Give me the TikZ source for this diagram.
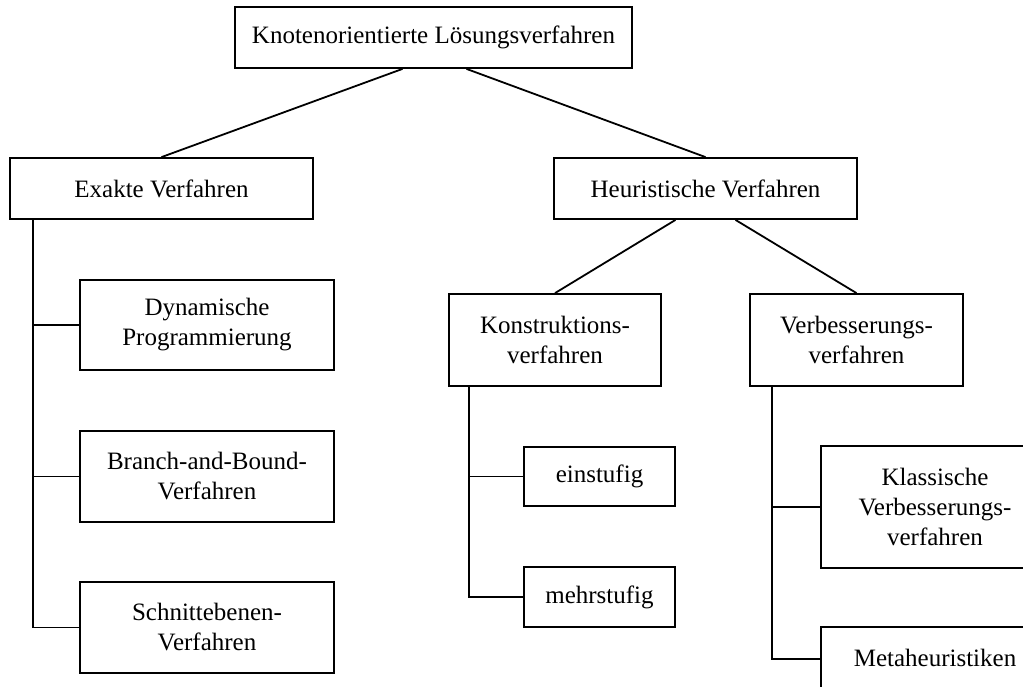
\documentclass[tikz,border=0pt]{standalone}
\usepackage{fontspec}
\setmainfont{Liberation Serif}
\begin{document}
\begin{tikzpicture}[x=1pt,y=-1pt,
  box/.style={draw, line width=1.8pt, inner sep=0pt, align=center,
    font=\fontsize{25}{30}\selectfont},
  conn/.style={line width=1.8pt}]
\useasboundingbox (0,0) rectangle (1023,686);
\clip (0,0) rectangle (1023,686);
\fill[white] (0,0) rectangle (1023,686);

% level 0 and 1
\node[box, minimum width=397pt, minimum height=61pt] (top) at (433.5,37.5) {Knotenorientierte Lösungsverfahren};
\node[box, minimum width=303pt, minimum height=61pt] (exakt) at (161.5,188.5) {Exakte Verfahren};
\node[box, minimum width=303pt, minimum height=61pt] (heur) at (705.5,188.5) {Heuristische Verfahren};

% heuristic branches
\node[box, minimum width=212pt, minimum height=92pt] (konstr) at (555,340) {Konstruktions-\\verfahren};
\node[box, minimum width=213pt, minimum height=92pt] (verb) at (856.5,340) {Verbesserungs-\\verfahren};

% exact methods
\node[box, minimum width=254pt, minimum height=90pt] (dyn) at (207,325) {Dynamische\\Programmierung};
\node[box, minimum width=254pt, minimum height=91pt] (bb) at (207,476.5) {Branch-and-Bound-\\Verfahren};
\node[box, minimum width=254pt, minimum height=91pt] (schn) at (207,627.5) {Schnittebenen-\\Verfahren};

% construction methods
\node[box, minimum width=151pt, minimum height=59pt] (ein) at (599.5,476.5) {einstufig};
\node[box, minimum width=151pt, minimum height=60pt] (mehr) at (599.5,597) {mehrstufig};

% improvement methods
\node[box, minimum width=228pt, minimum height=122pt] (klass) at (935,507) {Klassische\\Verbesserungs-\\verfahren};
\node[box, minimum width=228pt, minimum height=62pt] (meta) at (935,658) {Metaheuristiken};

% slanted connectors
\draw[conn] ([xshift=-31pt]top.south) -- (exakt.north);
\draw[conn] ([xshift=33pt]top.south) -- (heur.north);
\draw[conn] ([xshift=-30pt]heur.south) -- (konstr.north);
\draw[conn] ([xshift=30pt]heur.south) -- (verb.north);

% orthogonal connectors
\coordinate (ex) at ([xshift=24pt]exakt.south west);
\draw[conn] (ex) |- (dyn.west);
\draw[conn] (ex) |- (bb.west);
\draw[conn] (ex) |- (schn.west);

\coordinate (ko) at ([xshift=21pt]konstr.south west);
\draw[conn] (ko) |- (ein.west);
\draw[conn] (ko) |- (mehr.west);

\coordinate (vb) at ([xshift=23pt]verb.south west);
\draw[conn] (vb) |- (klass.west);
\draw[conn] (vb) |- ([yshift=-1pt]meta.west);
\end{tikzpicture}
\end{document}
